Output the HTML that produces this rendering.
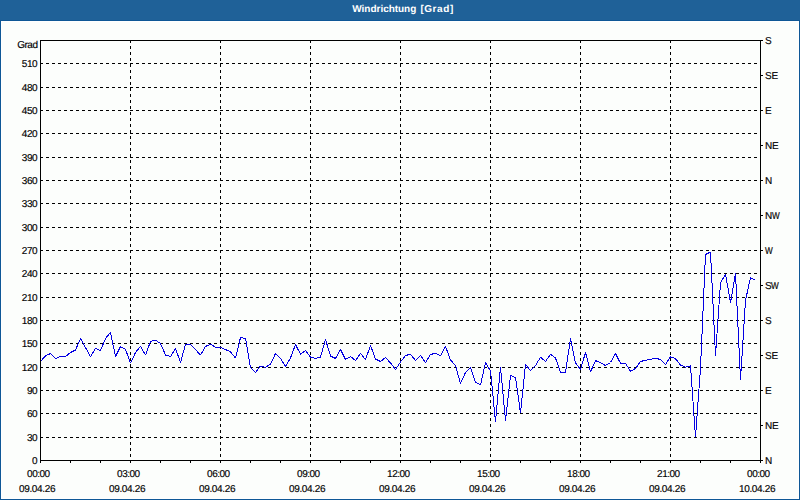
<!DOCTYPE html>
<html><head><meta charset="utf-8"><title>Windrichtung</title>
<style>
html,body{margin:0;padding:0;}
body{width:800px;height:500px;overflow:hidden;background:#fff;font-family:"Liberation Sans",sans-serif;position:relative;text-rendering:geometricPrecision;}
#hdr{position:absolute;left:0;top:0;width:800px;height:21px;background:#1f6198;border-bottom:1px solid #0e5796;color:#fff;font-weight:bold;font-size:10px;line-height:20px;text-align:left;letter-spacing:0;padding-left:352.3px;box-sizing:border-box;}
#frame{position:absolute;left:0;top:21px;width:798px;height:478px;border-left:1px solid #0e5796;border-right:1px solid #0e5796;border-bottom:1px solid #0e5796;box-sizing:content-box;height:478px;}
svg{position:absolute;left:0;top:0;}
.t{position:absolute;font-size:10px;line-height:12px;color:#000;white-space:nowrap;-webkit-text-stroke:0.15px #000;}
.l{text-align:right;width:36px;left:1.2px;letter-spacing:-0.45px;}
.r{left:765.1px;letter-spacing:-0.3px;}
.w{display:inline-block;transform:scaleX(0.82);transform-origin:0 50%;}
.b{text-align:center;width:60px;letter-spacing:-0.25px;}
</style></head><body>
<div id="hdr"><span style="letter-spacing:-0.03px">Windrichtung</span><span style="letter-spacing:0.57px;margin-left:4.1px">[Grad]</span></div>
<div id="frame"></div>
<div style="position:absolute;left:2px;top:22px;width:796px;height:476px;background:#fcfefc"></div>
<svg width="800" height="500" viewBox="0 0 800 500" shape-rendering="crispEdges">
<g stroke="#000" stroke-width="1" fill="none" stroke-dasharray="3,3">
<path d="M40,437.5H760"/>
<path d="M40,413.5H760"/>
<path d="M40,390.5H760"/>
<path d="M40,367.5H760"/>
<path d="M40,343.5H760"/>
<path d="M40,320.5H760"/>
<path d="M40,297.5H760"/>
<path d="M40,273.5H760"/>
<path d="M40,250.5H760"/>
<path d="M40,227.5H760"/>
<path d="M40,203.5H760"/>
<path d="M40,180.5H760"/>
<path d="M40,157.5H760"/>
<path d="M40,133.5H760"/>
<path d="M40,110.5H760"/>
<path d="M40,87.5H760"/>
<path d="M40,63.5H760"/>
<path d="M130.5,40V460"/>
<path d="M220.5,40V460"/>
<path d="M310.5,40V460"/>
<path d="M400.5,40V460"/>
<path d="M490.5,40V460"/>
<path d="M580.5,40V460"/>
<path d="M670.5,40V460"/>
</g>
<g stroke="#000" stroke-width="1" fill="none">
<path d="M40.5,40.5H760.5V460.5H40.5Z"/>
<path d="M40.5,460V463M70.5,460V463M100.5,460V463M130.5,460V463M160.5,460V463M190.5,460V463M220.5,460V463M250.5,460V463M280.5,460V463M310.5,460V463M340.5,460V463M370.5,460V463M400.5,460V463M430.5,460V463M460.5,460V463M490.5,460V463M520.5,460V463M550.5,460V463M580.5,460V463M610.5,460V463M640.5,460V463M670.5,460V463M700.5,460V463M730.5,460V463M760.5,460V463"/>
<path d="M760,40.5H763M760,75.5H763M760,110.5H763M760,145.5H763M760,180.5H763M760,215.5H763M760,250.5H763M760,285.5H763M760,320.5H763M760,355.5H763M760,390.5H763M760,425.5H763M760,460.5H763"/>
</g>
<polyline points="40.5,361.5 45.5,355.8 50.5,353.5 55.5,358.5 60.5,356.5 65.5,356.5 70.5,352.5 75.5,350 80.5,338.5 85.5,347.5 90.5,356.5 95.5,348.5 100.5,350.5 105.5,338.5 110.5,332.5 115.5,356.5 120.5,346.5 125.5,349.5 130.5,363 135.5,352.5 140.5,346.5 145.5,355.2 150.5,341.5 155.5,340.2 160.5,343.5 165.5,355 170.5,356.5 175.5,348.5 180.5,362.5 185.5,344.3 190.5,344.3 195.5,349.5 200.5,355.2 205.5,346.5 210.5,344.2 215.5,347.3 220.5,347.5 225.5,349.5 230.5,351.8 235.5,358 240.5,337.5 245.5,338.5 250.5,367.5 255.5,372.5 260.5,366 265.5,367.3 270.5,364.2 275.5,353.5 280.5,358.5 285.5,366.5 290.5,358 295.5,344.5 300.5,354.2 305.5,350.5 310.5,357 315.5,358.5 320.5,357.2 325.5,339.5 330.5,356 335.5,358.5 340.5,349.5 345.5,359.5 350.5,356.5 355.5,360.5 360.5,353.5 365.5,359.5 370.5,345.5 375.5,359 380.5,361.5 385.5,357.5 390.5,363 395.5,369.5 400.5,362 405.5,355.5 410.5,354.3 415.5,360.5 420.5,355.5 425.5,362.5 430.5,354.5 435.5,353.3 440.5,356 445.5,346.5 450.5,360 455.5,365.5 460.5,383.5 465.5,372.5 470.5,367.5 475.5,382 480.5,385 485.5,362.5 490.5,371 495.5,421.5 500.5,367 505.5,420.5 510.5,375.5 515.5,377.5 520.5,413 525.5,364.5 530.5,370.5 535.5,365.5 540.5,357.2 545.5,361.5 550.5,354.3 555.5,358 560.5,372.5 565.5,372.5 570.5,338.5 575.5,363 580.5,369.5 585.5,352.5 590.5,372 595.5,360.5 600.5,362.8 605.5,365.5 610.5,362.5 615.5,353.5 620.5,363.3 625.5,363.3 630.5,371.2 635.5,368.5 640.5,361.5 645.5,360.3 650.5,359.3 655.5,358.3 660.5,359.5 665.5,364.5 670.5,356.7 675.5,358.7 680.5,365 685.5,367.2 690.5,365.8 695.5,437 700.5,368 705.5,254.5 710.5,252 715.5,355.5 720.5,283 725.5,274 730.5,302.5 735.5,273.5 740.5,379.5 745.5,300.5 750.5,277.5 755.5,280.5" fill="none" stroke="#0400e2" stroke-width="1" stroke-linejoin="bevel" shape-rendering="crispEdges"/>
</svg>
<div class="t l" style="top:40px;left:1.5px;letter-spacing:-0.5px">Grad</div>
<div class="t l" style="top:456px">0</div>
<div class="t l" style="top:433px">30</div>
<div class="t l" style="top:409px">60</div>
<div class="t l" style="top:386px">90</div>
<div class="t l" style="top:363px">120</div>
<div class="t l" style="top:339px">150</div>
<div class="t l" style="top:316px">180</div>
<div class="t l" style="top:293px">210</div>
<div class="t l" style="top:269px">240</div>
<div class="t l" style="top:246px">270</div>
<div class="t l" style="top:223px">300</div>
<div class="t l" style="top:199px">330</div>
<div class="t l" style="top:176px">360</div>
<div class="t l" style="top:153px">390</div>
<div class="t l" style="top:129px">420</div>
<div class="t l" style="top:106px">450</div>
<div class="t l" style="top:83px">480</div>
<div class="t l" style="top:59px">510</div>
<div class="t r" style="top:456px">N</div>
<div class="t r" style="top:421px">NE</div>
<div class="t r" style="top:386px">E</div>
<div class="t r" style="top:351px">SE</div>
<div class="t r" style="top:316px">S</div>
<div class="t r" style="top:281px">S<span class="w">W</span></div>
<div class="t r" style="top:246px"><span class="w">W</span></div>
<div class="t r" style="top:211px">N<span class="w">W</span></div>
<div class="t r" style="top:176px">N</div>
<div class="t r" style="top:141px">NE</div>
<div class="t r" style="top:106px">E</div>
<div class="t r" style="top:71px">SE</div>
<div class="t r" style="top:36px">S</div>
<div class="t b" style="left:8.350000000000001px;top:469px;letter-spacing:-0.5px">00:00</div>
<div class="t b" style="left:7.100000000000001px;top:484px;letter-spacing:-0.35px">09.04.26</div>
<div class="t b" style="left:98.35px;top:469px;letter-spacing:-0.5px">03:00</div>
<div class="t b" style="left:97.1px;top:484px;letter-spacing:-0.35px">09.04.26</div>
<div class="t b" style="left:188.35px;top:469px;letter-spacing:-0.5px">06:00</div>
<div class="t b" style="left:187.1px;top:484px;letter-spacing:-0.35px">09.04.26</div>
<div class="t b" style="left:278.35px;top:469px;letter-spacing:-0.5px">09:00</div>
<div class="t b" style="left:277.1px;top:484px;letter-spacing:-0.35px">09.04.26</div>
<div class="t b" style="left:368.35px;top:469px;letter-spacing:-0.5px">12:00</div>
<div class="t b" style="left:367.1px;top:484px;letter-spacing:-0.35px">09.04.26</div>
<div class="t b" style="left:458.35px;top:469px;letter-spacing:-0.5px">15:00</div>
<div class="t b" style="left:457.1px;top:484px;letter-spacing:-0.35px">09.04.26</div>
<div class="t b" style="left:548.35px;top:469px;letter-spacing:-0.5px">18:00</div>
<div class="t b" style="left:547.1px;top:484px;letter-spacing:-0.35px">09.04.26</div>
<div class="t b" style="left:638.35px;top:469px;letter-spacing:-0.5px">21:00</div>
<div class="t b" style="left:637.1px;top:484px;letter-spacing:-0.35px">09.04.26</div>
<div class="t b" style="left:728.35px;top:469px;letter-spacing:-0.5px">00:00</div>
<div class="t b" style="left:727.1px;top:484px;letter-spacing:-0.35px">10.04.26</div>
</body></html>
